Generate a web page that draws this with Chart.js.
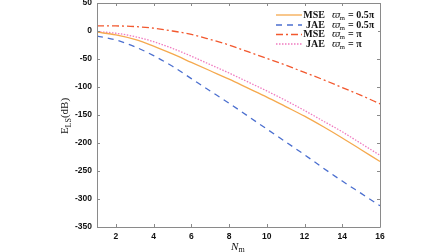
<!DOCTYPE html>
<html><head><meta charset="utf-8">
<script src="https://cdn.jsdelivr.net/npm/chart.js@4/dist/chart.umd.min.js"></script>
<style>html,body{margin:0;padding:0;background:#fff}#wrap{width:448px;height:252px}</style>
</head><body><div id="wrap"><canvas id="c" width="448" height="252"></canvas></div>
<script>
const nm = [1,2,3,4,5,6,7,8,9,10,11,12,13,14,15,16];
const mseHalfPi = [-2,-7,-15,-27,-41,-56,-71,-86,-102,-118,-135,-152,-171,-191,-212,-233];
const jaeHalfPi = [-9,-16,-28,-44,-63,-85,-107,-129,-152,-175,-198,-221,-245,-268,-290,-312];
const msePi = [9,9,8,5,0,-6,-15,-25,-37,-49,-61,-74,-87,-101,-115,-130];
const jaePi = [-1,-4,-10,-19,-31,-45,-60,-75,-91,-107,-124,-142,-161,-180,-201,-222];
const xTicks = [2,4,6,8,10,12,14,16];
const yTicks = [50,0,-50,-100,-150,-200,-250,-300,-350];
const legendNames = ['MSE','JAE','MSE','JAE'];
const legendOmega = ['0.5π','0.5π','π','π'];

const colors = ['#F5A94E','#4B6FCF','#F2582E','#F07BC0'];
const dashes = [[],[6,5],[7,3,2,3],[1.5,1.5]];
const series = [mseHalfPi, jaeHalfPi, msePi, jaePi];

const datasets = series.map((s,i)=>({
  label: legendNames[i]+' '+legendOmega[i],
  data: nm.map((x,j)=>({x:x,y:s[j]})),
  borderColor: colors[i], backgroundColor: colors[i],
  borderWidth: 1.3, borderDash: dashes[i], pointRadius: 0,
  cubicInterpolationMode: 'monotone', fill:false
}));

const frame = {
  id:'frame',
  afterDatasetsDraw(chart){
    const {ctx, chartArea:a, scales:{x,y}} = chart;
    ctx.save();
    ctx.strokeStyle = '#8a8a8a'; ctx.lineWidth = 1;
    ctx.beginPath();
    ctx.rect(Math.round(a.left)+0.5, Math.round(a.top)+0.5, Math.round(a.right-a.left), Math.round(a.bottom-a.top));
    ctx.stroke();
    ctx.beginPath();
    xTicks.forEach(v=>{const px=Math.round(x.getPixelForValue(v))+0.5;
      ctx.moveTo(px,a.bottom); ctx.lineTo(px,a.bottom-3);
      ctx.moveTo(px,a.top); ctx.lineTo(px,a.top+3);});
    yTicks.forEach(v=>{const py=Math.round(y.getPixelForValue(v))+0.5;
      ctx.moveTo(a.left,py); ctx.lineTo(a.left+3,py);
      ctx.moveTo(a.right,py); ctx.lineTo(a.right-3,py);});
    ctx.stroke();

    // legend
    const lx0 = 276, lx1 = 302, rows=[15,25,34.5,44];
    ctx.fillStyle='#fff';
    ctx.fillRect(272,8,106,42);
    rows.forEach((ry,i)=>{
      ctx.strokeStyle=colors[i]; ctx.lineWidth=1.3; ctx.setLineDash(dashes[i]);
      ctx.beginPath(); ctx.moveTo(lx0,ry); ctx.lineTo(lx1,ry); ctx.stroke();
      ctx.setLineDash([]);
      ctx.fillStyle='#111'; ctx.textBaseline='middle';
      ctx.font='bold 10px "Liberation Serif", serif'; ctx.textAlign='right';
      ctx.fillText(legendNames[i], 325, ry);
      ctx.textAlign='left';
      ctx.font='italic 10px "DejaVu Serif", serif';
      ctx.fillText('ϖ', 332, ry);
      ctx.font='7px "Liberation Serif", serif';
      ctx.fillText('m', 339.5, ry+3);
      ctx.font='bold 10px "Liberation Serif", serif';
      ctx.fillText('= '+legendOmega[i], 348, ry);
    });

    // axis titles
    ctx.fillStyle='#111';
    ctx.font='italic 11px "Liberation Serif", serif'; ctx.textAlign='left'; ctx.textBaseline='alphabetic';
    ctx.fillText('N', 231, 250);
    ctx.font='8px "Liberation Serif", serif';
    ctx.fillText('m', 238.5, 252);
    ctx.save();
    ctx.translate(68, 116); ctx.rotate(-Math.PI/2);
    ctx.textAlign='left';
    const parts=[['E','11px'],['LS','8px',2.5],['(dB)','11px']];
    ctx.font='11px "Liberation Serif", serif';
    let total=ctx.measureText('E').width+ctx.measureText('(dB)').width;
    ctx.font='8px "Liberation Serif", serif'; total+=ctx.measureText('LS').width;
    let cx=-total/2;
    parts.forEach(p=>{ctx.font=p[1]+' "Liberation Serif", serif'; ctx.fillText(p[0],cx,p[2]||0); cx+=ctx.measureText(p[0]).width;});
    ctx.restore();
    ctx.restore();
  }
};

new Chart(document.getElementById('c'),{
  type:'line',
  data:{datasets},
  options:{
    responsive:false, animation:false, devicePixelRatio:1,
    layout:{padding:{top:3,right:68,bottom:0,left:0}},
    plugins:{legend:{display:false},tooltip:{enabled:false}},
    scales:{
      x:{type:'linear',min:1,max:16,
        afterBuildTicks:s=>{s.ticks=xTicks.map(v=>({value:v}));},
        afterFit:s=>{s.height=25;s.paddingLeft=0;s.paddingRight=0;},
        grid:{display:false,drawTicks:false},border:{display:false},
        ticks:{color:'#111',font:{family:'"Liberation Sans", Arial',size:8.5,weight:'bold'},padding:5,maxRotation:0}},
      y:{type:'linear',min:-350,max:50,
        afterBuildTicks:s=>{s.ticks=yTicks.map(v=>({value:v}));},
        afterFit:s=>{s.width=97;s.paddingTop=0;s.paddingBottom=0;},
        grid:{display:false,drawTicks:false},border:{display:false},
        ticks:{color:'#111',font:{family:'"Liberation Sans", Arial',size:8.5,weight:'bold'},padding:5}}
    }
  },
  plugins:[frame]
});
</script></body></html>
